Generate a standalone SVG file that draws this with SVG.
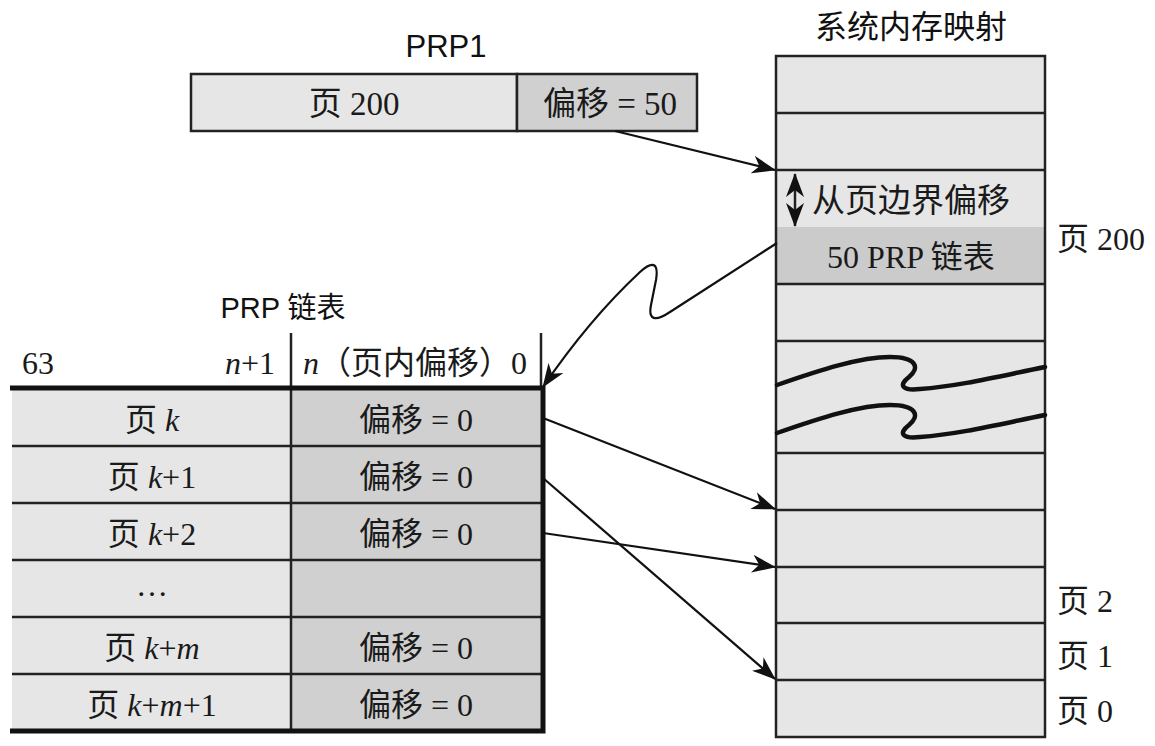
<svg xmlns="http://www.w3.org/2000/svg" width="1155" height="746" viewBox="0 0 1155 746">
<style>
.t{font-family:"Liberation Serif","Noto Sans CJK SC",serif;font-size:32px;fill:#1a1a1a}
.h{font-family:"Liberation Sans","Noto Sans CJK SC",sans-serif;font-size:29px;fill:#111}
.c{text-anchor:middle}
.i{font-style:italic}
.box{stroke:#222;stroke-width:2.5}
.ln{stroke:#222;stroke-width:2.5;fill:none}
.thick{stroke:#111;stroke-width:5;fill:none}
.l1{fill:#e6e6e6}
.l2{fill:#d0d0d0}
.con{stroke:#111;stroke-width:2.2;fill:none;marker-end:url(#ah)}
.wave{stroke:#111;stroke-width:4.5;fill:none;stroke-linecap:round}
</style>
<defs>
<marker id="ah" viewBox="0 0 24 18" refX="23" refY="9" markerWidth="24" markerHeight="18" markerUnits="userSpaceOnUse" orient="auto-start-reverse">
<path d="M0,0 L24,9 L0,18 L7,9 Z" fill="#111"/>
</marker>
</defs>

<g id="prp1">
<text class="h c" x="446" y="57" style="font-size:31px">PRP1</text>
<rect class="l1 box" x="191" y="74" width="326" height="57"/>
<rect class="l2 box" x="517" y="74" width="180" height="57"/>
<text class="t c" x="354" y="115" style="font-size:33px">页 200</text>
<text class="t c" x="610" y="115" style="font-size:33px">偏移 = 50</text>
</g>

<g id="memory">
<text class="h c" x="911" y="38" style="font-size:32px">系统内存映射</text>
<rect class="l1" x="776" y="56" width="269" height="681"/>
<rect x="776" y="227" width="269" height="57" fill="#cbcbcb"/>
<rect class="ln" x="776" y="56" width="269" height="681"/>
<path class="ln" d="M776,113H1045M776,170H1045M776,284H1045M776,341H1045M776,453H1045M776,510H1045M776,567H1045M776,623H1045M776,680H1045"/>
<path class="ln" d="M795,174V226" marker-start="url(#ah)" marker-end="url(#ah)"/>
<text class="t" x="812" y="212" style="font-size:33px">从页边界偏移</text>
<text class="t c" x="911" y="268">50 PRP 链表</text>
<path class="wave" d="M777,385 C820,370 860,357 890,357 C917,357 920,368 909,377 C897,386 904,391 920,389 C960,386 1000,376 1045,367"/>
<path class="wave" d="M777,433 C820,418 860,405 890,405 C917,405 920,416 909,425 C897,434 904,439 920,437 C960,434 1000,424 1045,415"/>
<text class="t" x="1057" y="250">页 200</text>
<text class="t" x="1057" y="612">页 2</text>
<text class="t" x="1057" y="667">页 1</text>
<text class="t" x="1057" y="722">页 0</text>
</g>

<g id="prplist">
<text class="h c" x="283" y="318">PRP 链表</text>
<rect class="l1" x="12" y="388" width="279" height="343"/>
<rect class="l2" x="291" y="388" width="250" height="343"/>
<path class="ln" d="M12,446H541M12,503H541M12,560H541M12,617H541M12,674H541"/>
<path class="ln" d="M291,333V731M541,333V388"/>
<path class="thick" d="M10,388H543V731H10"/>
<text class="t" x="22" y="374">63</text>
<text class="t" x="275" y="374" text-anchor="end"><tspan class="i">n</tspan>+1</text>
<text class="t" x="303" y="374"><tspan class="i">n</tspan>（页内偏移）0</text>
<text class="t c" x="152" y="431">页 <tspan class="i">k</tspan></text>
<text class="t c" x="152" y="488">页 <tspan class="i">k</tspan>+1</text>
<text class="t c" x="152" y="545">页 <tspan class="i">k</tspan>+2</text>
<text class="t c" x="152" y="596">…</text>
<text class="t c" x="152" y="659">页 <tspan class="i">k</tspan>+<tspan class="i">m</tspan></text>
<text class="t c" x="152" y="716">页 <tspan class="i">k</tspan>+<tspan class="i">m</tspan>+1</text>
<text class="t c" x="416" y="431">偏移 = 0</text>
<text class="t c" x="416" y="488">偏移 = 0</text>
<text class="t c" x="416" y="545">偏移 = 0</text>
<text class="t c" x="416" y="659">偏移 = 0</text>
<text class="t c" x="416" y="716">偏移 = 0</text>
</g>

<g id="connectors">
<path class="con" d="M615,131 L775,170"/>
<path class="con" d="M777,243 L670,312 C655,322 648,320 651,305 L656,280 C659,262 652,261 640,272 C610,300 575,340 543,387"/>
<path class="con" d="M543,418 L775,509"/>
<path class="con" d="M543,478 L775,679"/>
<path class="con" d="M543,533 L775,567"/>
</g>
</svg>
